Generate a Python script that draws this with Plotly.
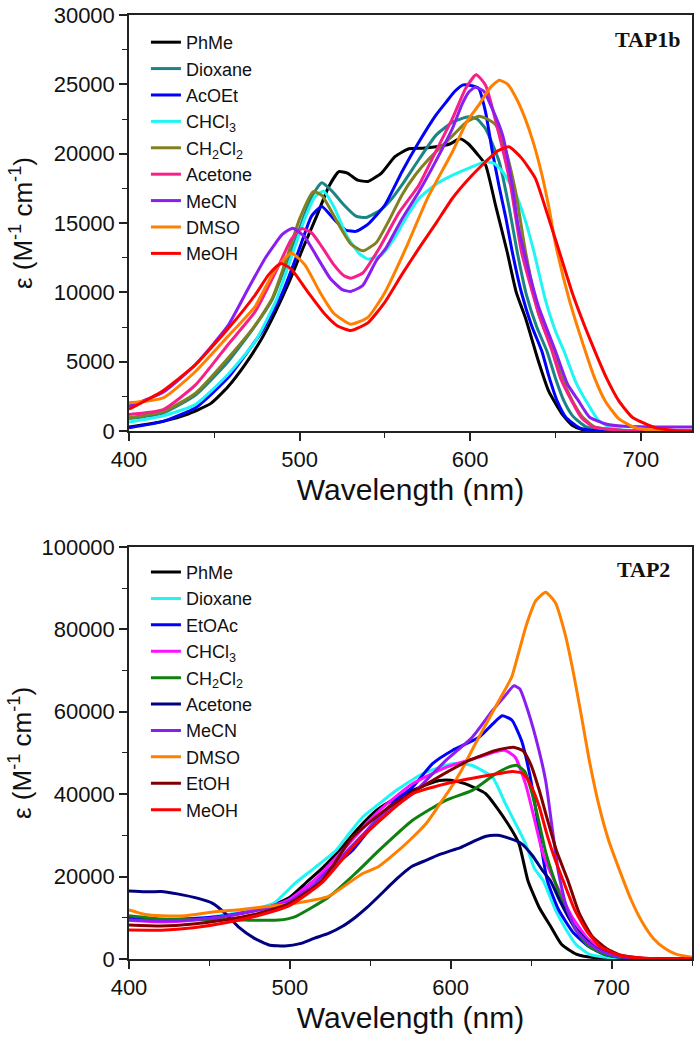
import plotly.graph_objects as go
from plotly.subplots import make_subplots

# ---------------- TAP1b (top panel) ----------------
T1_LABELS = ["PhMe", "Dioxane", "AcOEt", "CHCl<sub>3</sub>", "CH<sub>2</sub>Cl<sub>2</sub>",
             "Acetone", "MeCN", "DMSO", "MeOH"]
T1_COLORS = ["#000000", "#1b8585", "#0000ff", "#1ff5f5", "#808020",
             "#f5208a", "#8a1ef0", "#ff8000", "#ff0000"]

T1_PHME_X = [400, 420, 435, 448, 458, 468, 478, 486, 494, 502, 510, 517, 523, 528, 534, 540, 548, 556, 564, 572, 580,
             588, 594, 599, 604, 609, 615, 621.6, 627, 632.4, 640, 646, 654, 660, 666, 680, 730]
T1_PHME_Y = [300, 700, 1250, 2000, 3200, 4800, 6710, 8630, 10790, 13200, 15500, 17600, 18700, 18600, 18100, 18000,
             18600, 19800, 20360, 20400, 20500, 20700, 21080, 20700, 20000, 19200, 16200, 12950, 10000, 8150, 5036,
             2878, 1200, 400, 100, 0, 0]

T1_DIOX_X = [400, 420, 439, 458, 474, 484, 492, 500, 507, 513, 519, 526, 533, 539, 547, 553, 560, 570, 580, 590, 599,
             604, 609, 617, 623, 627.5, 633, 639, 645, 650, 655, 660, 668, 680, 730]
T1_DIOX_Y = [900, 1300, 2600, 5000, 7600, 9500, 12000, 14600, 16900, 17900, 17300, 16300, 15500, 15400, 15900, 16600,
             17750, 19600, 21340, 22300, 22660, 22500, 21800, 19420, 16000, 12950, 9800, 7500, 5755, 3800, 2158,
             1100, 300, 50, 0]

T1_ACOET_X = [400, 420, 439, 458, 470, 478, 490, 500, 507, 513, 520, 527, 533, 540, 550, 560, 570, 580, 586, 591, 596,
              601, 605, 609, 613, 617, 621, 624.6, 630, 636, 642, 646, 651, 656, 664, 672, 700, 730]
T1_ACOET_Y = [240, 700, 1680, 3840, 5800, 7200, 10000, 13200, 15500, 16200, 15300, 14500, 14400, 14900, 16300, 18700,
              20860, 22800, 23740, 24500, 24960, 24900, 24700, 23000, 20140, 17600, 15300, 12950, 10000, 7600, 5755,
              4000, 2158, 1000, 240, 50, 0, 0]

T1_CHCL3_X = [400, 420, 439, 458, 474, 486, 495, 503, 509, 514, 520, 528, 535, 540, 548, 556, 563, 570, 580, 590, 600,
              609, 614, 619, 623, 627, 632, 637.3, 644, 650, 655, 662, 668, 675, 683, 700, 730]
T1_CHCL3_Y = [650, 1100, 1920, 4080, 6470, 9350, 12500, 15300, 16900, 17300, 16200, 14000, 12800, 12400, 12700, 14000,
              15500, 16780, 17800, 18470, 19000, 19420, 19300, 18700, 17900, 17000, 15300, 12950, 9500, 7200, 5755,
              3500, 2158, 800, 200, 0, 0]

T1_CH2CL2_X = [400, 420, 439, 458, 474, 484, 492, 500, 508, 513, 518, 523, 530, 537, 545, 552, 560, 568, 576, 583, 590,
               598, 605, 610, 615, 621, 626.6, 632.4, 640, 648.6, 654, 660, 666, 673, 690, 730]
T1_CH2CL2_Y = [960, 1400, 2740, 5260, 7650, 9590, 12300, 15300, 17270, 17000, 16000, 14870, 13500, 13000, 13600,
               15100, 17030, 18500, 19660, 20500, 21340, 22300, 22700, 22500, 22060, 20140, 17265, 12950, 8500, 5755,
               3800, 2158, 1000, 300, 50, 0]

T1_ACET_X = [400, 420, 439, 458, 474, 488, 495, 501, 507, 513, 520, 526, 530, 537, 546.7, 558, 570, 580, 589.6, 597.3,
             603.5, 609, 617, 623.6, 630, 640, 648, 653, 659.6, 665, 672, 690, 730]
T1_ACET_Y = [1200, 1550, 3330, 6230, 8630, 12000, 13800, 14600, 14300, 13300, 12000, 11200, 11030, 11400, 13190,
             15700, 17750, 20200, 22540, 24700, 25700, 24940, 21340, 17750, 12950, 8500, 5755, 3800, 2158, 1000, 300,
             50, 0]

T1_MECN_X = [400, 420, 439, 458, 470, 480, 490, 496, 503, 510, 518, 525, 530, 537, 545, 550.6, 560, 570, 580, 589.6,
             595, 599.3, 603, 608, 612, 619, 624.6, 628, 631.5, 640, 650, 657, 663.6, 670, 680, 690, 710, 730]
T1_MECN_Y = [1800, 2800, 4800, 7600, 10300, 12500, 14200, 14630, 14000, 12600, 11000, 10200, 10070, 10500, 12300,
             13190, 15300, 17270, 19500, 21820, 23500, 24460, 24800, 24500, 23500, 21340, 17750, 14870, 12950, 9000,
             5755, 3400, 2158, 1000, 500, 350, 300, 300]

T1_DMSO_X = [400, 420, 439, 458, 474, 485, 495, 503, 512, 520, 530, 540, 550, 562.3, 575, 589.6, 598, 605, 612, 617,
             622, 627, 632, 637, 642, 646, 650, 658, 667.5, 673, 679.2, 687, 696.7, 710, 730]
T1_DMSO_Y = [2040, 2400, 4300, 6830, 9000, 11500, 12850, 12000, 10000, 8500, 7700, 8200, 10000, 13190, 16800, 20140,
             22300, 23500, 24800, 25300, 25000, 24000, 22600, 20800, 18500, 16200, 13500, 9500, 5755, 3800, 2158, 900,
             240, 50, 0]

T1_MEOH_X = [400, 419.5, 439, 458.4, 474, 482, 489, 495, 505, 515, 522, 530, 540, 550, 560, 570, 580, 589.6, 600, 609,
             616, 622.7, 630, 638.2, 646, 652.8, 660, 667, 673.3, 680, 687, 695, 708.3, 720, 730]
T1_MEOH_Y = [1580, 2880, 4800, 7430, 9830, 11300, 12090, 11700, 10000, 8400, 7600, 7250, 7800, 9300, 11300, 13190,
             15000, 16790, 18300, 19420, 20200, 20500, 19700, 18220, 15340, 12710, 9900, 7600, 5700, 3800, 2200, 1000,
             250, 50, 0]

T1_X = [T1_PHME_X, T1_DIOX_X, T1_ACOET_X, T1_CHCL3_X, T1_CH2CL2_X, T1_ACET_X, T1_MECN_X, T1_DMSO_X, T1_MEOH_X]
T1_Y = [T1_PHME_Y, T1_DIOX_Y, T1_ACOET_Y, T1_CHCL3_Y, T1_CH2CL2_Y, T1_ACET_Y, T1_MECN_Y, T1_DMSO_Y, T1_MEOH_Y]

# ---------------- TAP2 (bottom panel) ----------------
T2_LABELS = ["PhMe", "Dioxane", "EtOAc", "CHCl<sub>3</sub>", "CH<sub>2</sub>Cl<sub>2</sub>",
             "Acetone", "MeCN", "DMSO", "EtOH", "MeOH"]
T2_COLORS = ["#000000", "#1ff5f5", "#0000ff", "#ff10ff", "#108010",
             "#000080", "#8a1ef0", "#ff8000", "#800000", "#ff0000"]

T2_PHME_X = [400, 420, 440, 460, 480, 490, 500, 510, 520, 530.8, 542, 553.6, 565, 576.3, 592.8, 600, 609.3, 621.8,
             634.2, 642.4, 648, 655, 662, 669, 678, 690, 710, 750]
T2_PHME_Y = [9800, 9300, 9600, 10500, 12000, 13200, 15000, 18500, 22000, 26400, 31500, 36000, 38800, 40900, 43300,
             43400, 42500, 40100, 33600, 28000, 19000, 12500, 8000, 3500, 1200, 300, 0, 0]

T2_DIOX_X = [400, 420, 440, 460, 480, 490, 503, 515, 528.8, 537, 545.3, 555, 566, 582.5, 601, 613, 626, 634, 646.5,
             652, 657.4, 665, 672, 678, 686, 700, 720, 750]
T2_DIOX_Y = [10000, 9500, 9800, 10700, 12300, 13500, 18300, 22000, 26400, 30500, 34450, 37500, 40900, 44950, 47380,
             47000, 44100, 37700, 28000, 22000, 19100, 12000, 7000, 3500, 1200, 300, 0, 0]

T2_ETOAC_X = [400, 420, 440, 460, 480, 490, 500, 515, 527, 539, 555.6, 566, 576.3, 588.7, 601, 617.6, 626, 632, 638,
              644, 649, 653, 656, 660, 667, 676, 686, 695, 705, 720, 750]
T2_ETOAC_Y = [10000, 9600, 9800, 10500, 12000, 13000, 14500, 19000, 22500, 26400, 34450, 38500, 41700, 47400, 50600,
              53800, 57000, 59000, 58000, 53000, 45000, 36000, 28000, 19100, 12000, 6500, 3000, 1200, 400, 50, 0]

T2_CHCL3_X = [400, 420, 440, 460, 480, 490, 500, 515, 533, 555.6, 576.3, 597, 617.6, 628, 634, 640, 646.5, 652, 657,
              662, 667, 675, 685, 695, 705, 720, 750]
T2_CHCL3_Y = [9400, 9000, 9400, 10300, 12000, 13000, 14500, 19000, 26400, 36000, 42500, 46500, 49000, 50300, 50600,
              49000, 42500, 34000, 26000, 21000, 17000, 10500, 5000, 2000, 700, 100, 0]

T2_CH2CL2_X = [400, 420, 440, 460, 472, 493, 503, 524, 540, 555.6, 576.3, 597, 613.4, 628, 636, 641, 646, 650, 655,
               659, 664.5, 670, 677, 686, 697, 710, 730, 750]
T2_CH2CL2_Y = [10500, 9700, 9600, 9500, 9440, 9440, 10240, 15000, 20500, 26400, 33650, 38500, 40900, 44950, 46550,
               47000, 45500, 41000, 33000, 26000, 19100, 13000, 7500, 3000, 1000, 200, 0, 0]

T2_ACET_X = [400, 410, 420, 430, 443, 452, 460, 468, 478, 487, 497, 507, 515, 524, 533, 541, 548, 555, 562, 568, 576,
             585, 592, 598, 606, 614, 622, 629, 637, 644, 651, 657, 662, 668, 675, 682, 689, 697, 706, 720, 750]
T2_ACET_Y = [16500, 16300, 16400, 15800, 14700, 13500, 11000, 7800, 5000, 3400, 3150, 3800, 5000, 6200, 8000, 10200,
             12500, 15100, 17800, 20000, 22500, 24000, 25200, 26000, 27000, 28500, 29800, 30000, 29200, 28000, 25000,
             21500, 19000, 14000, 9000, 5500, 3000, 1500, 560, 100, 0]

T2_MECN_X = [400, 420, 440, 460, 480, 490, 500, 515, 530, 545, 555.6, 576.3, 597, 613.4, 626, 633, 639.3, 643, 646.6,
             652.8, 659, 663, 667, 672, 678, 685, 693, 702, 715, 750]
T2_MECN_Y = [9440, 9200, 9500, 10400, 11800, 12800, 14000, 18000, 24000, 30000, 34450, 40100, 48180, 53800, 60300,
             63500, 66300, 65500, 61900, 53800, 43300, 32000, 21000, 12500, 7000, 4000, 2000, 800, 200, 100]

T2_DMSO_X = [400, 410, 420, 435, 452, 470, 483, 503, 524, 545, 555, 565, 575, 585, 593, 600, 607, 615, 622, 630, 638,
             642, 647, 653, 659, 665, 671, 676, 681, 686, 692, 698, 705, 712, 719, 726, 733, 740, 750]
T2_DMSO_Y = [11900, 10800, 10500, 10500, 11400, 12000, 12600, 13500, 15200, 20700, 22400, 25500, 29000, 33000, 37500,
             41500, 46000, 52000, 57000, 62700, 68500, 74000, 81000, 87000, 89000, 86500, 79000, 70000, 59500, 48500,
             37500, 29000, 21500, 14500, 9000, 5000, 2600, 1200, 400]

T2_ETOH_X = [400, 420, 440, 460, 480, 500, 520, 539, 561.8, 588.7, 611.4, 628, 639, 645, 650, 655, 660, 666, 672.8,
             680, 688, 697, 706, 720, 750]
T2_ETOH_Y = [8230, 8000, 8500, 9500, 11000, 13500, 19000, 29600, 36870, 43330, 48180, 50600, 51400, 50500, 47000,
             41000, 34000, 26000, 19130, 11000, 5500, 2500, 900, 200, 0]

T2_MEOH_X = [400, 420, 440, 460, 480, 500, 520, 541, 560, 576.3, 597, 617.6, 630, 638.3, 645, 650, 655, 660, 665,
             669.8, 677, 685, 693, 705, 720, 750]
T2_MEOH_Y = [7020, 7000, 7600, 8800, 10500, 13000, 18500, 28000, 35000, 40100, 42540, 44140, 45000, 45500, 45000,
             42000, 37000, 30000, 24000, 19130, 12000, 6500, 3000, 900, 200, 0]

T2_X = [T2_PHME_X, T2_DIOX_X, T2_ETOAC_X, T2_CHCL3_X, T2_CH2CL2_X, T2_ACET_X, T2_MECN_X, T2_DMSO_X, T2_ETOH_X,
        T2_MEOH_X]
T2_Y = [T2_PHME_Y, T2_DIOX_Y, T2_ETOAC_Y, T2_CHCL3_Y, T2_CH2CL2_Y, T2_ACET_Y, T2_MECN_Y, T2_DMSO_Y, T2_ETOH_Y,
        T2_MEOH_Y]

X1_TICKS = [400, 500, 600, 700]
Y1_TICKS = [0, 5000, 10000, 15000, 20000, 25000, 30000]
X2_TICKS = [400, 500, 600, 700]
Y2_TICKS = [0, 20000, 40000, 60000, 80000, 100000]

# ---------------- figure ----------------
W, H = 697, 1038
ML, MR, MT, MB = 129, 3, 13, 79
PH = H - MT - MB
PW = W - ML - MR


def py(pix):
    return 1 - (pix - MT) / PH


def px(pix):
    return (pix - ML) / PW


fig = make_subplots(rows=2, cols=1)

for lab, col, xs, ys in zip(T1_LABELS, T1_COLORS, T1_X, T1_Y):
    fig.add_trace(go.Scatter(x=xs, y=ys, mode="lines", name=lab,
                             line=dict(color=col, width=3, shape="spline", smoothing=0.5),
                             legend="legend"), row=1, col=1)
for lab, col, xs, ys in zip(T2_LABELS, T2_COLORS, T2_X, T2_Y):
    fig.add_trace(go.Scatter(x=xs, y=ys, mode="lines", name=lab,
                             line=dict(color=col, width=3, shape="spline", smoothing=0.5),
                             legend="legend2"), row=2, col=1)

FONT = "Liberation Sans, Arial, sans-serif"
tickfont = dict(family=FONT, size=22, color="#111")
titlefont = dict(family=FONT, size=30, color="#111")
ytitlefont = dict(family=FONT, size=26, color="#111")
legfont = dict(family=FONT, size=18, color="#111")

axis_common = dict(showline=True, linecolor="#222", linewidth=1.5, mirror=True, ticks="outside",
                   ticklen=8, tickwidth=1.5, tickcolor="#222", showgrid=False, zeroline=False,
                   tickfont=tickfont, tickformat="d")

fig.update_xaxes(**axis_common)
fig.update_yaxes(**axis_common)

fig.update_layout(
    xaxis=dict(range=[400, 730], tickvals=X1_TICKS, domain=[0, 1],
               minor=dict(dtick=50, tick0=400, ticks="outside", ticklen=5, tickcolor="#222", tickwidth=1.2),
               title=dict(text="Wavelength (nm)", font=titlefont, standoff=8)),
    yaxis=dict(range=[0, 30000], tickvals=Y1_TICKS, domain=[py(430), 1],
               minor=dict(dtick=2500, tick0=0, ticks="outside", ticklen=5, tickcolor="#222", tickwidth=1.2),
               title=dict(text="\u03b5 (M<sup>-1</sup> cm<sup>-1</sup>)", font=ytitlefont, standoff=14)),
    xaxis2=dict(range=[400, 750], tickvals=X2_TICKS, domain=[0, 1],
                minor=dict(dtick=50, tick0=400, ticks="outside", ticklen=5, tickcolor="#222", tickwidth=1.2),
                title=dict(text="Wavelength (nm)", font=titlefont, standoff=8)),
    yaxis2=dict(range=[0, 100000], tickvals=Y2_TICKS, domain=[0, py(546)],
                minor=dict(dtick=10000, tick0=0, ticks="outside", ticklen=5, tickcolor="#222", tickwidth=1.2),
                title=dict(text="\u03b5 (M<sup>-1</sup> cm<sup>-1</sup>)", font=ytitlefont, standoff=2)),
    width=W, height=H,
    margin=dict(l=ML, r=MR, t=MT, b=MB),
    paper_bgcolor="white", plot_bgcolor="white",
    legend=dict(x=px(146), y=py(22), xanchor="left", yanchor="top", bgcolor="rgba(0,0,0,0)",
                font=legfont, tracegroupgap=0, itemwidth=30),
    legend2=dict(x=px(146), y=py(553), xanchor="left", yanchor="top", bgcolor="rgba(0,0,0,0)",
                 font=legfont, tracegroupgap=0, itemwidth=30),
    showlegend=True,
    annotations=[
        dict(text="<b>TAP1b</b>", x=px(650), y=py(38), xref="paper", yref="paper", showarrow=False,
             xanchor="center", yanchor="middle",
             font=dict(family="Liberation Serif, Times New Roman, serif", size=22, color="#111")),
        dict(text="<b>TAP2</b>", x=px(645), y=py(569), xref="paper", yref="paper", showarrow=False,
             xanchor="center", yanchor="middle",
             font=dict(family="Liberation Serif, Times New Roman, serif", size=22, color="#111")),
    ],
)

fig.write_html("out.html", config={"displayModeBar": False},
               post_script="document.body.style.margin='0';document.body.style.padding='0';")
